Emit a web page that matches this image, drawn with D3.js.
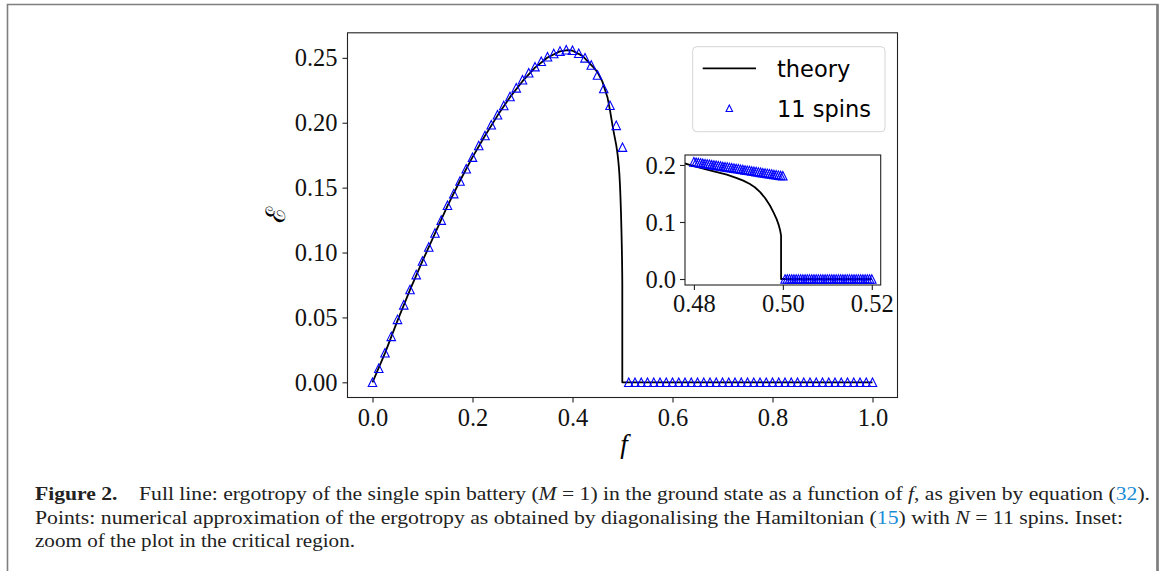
<!DOCTYPE html>
<head>
  <title>Ergotropy of the single spin battery</title>
  <style>
    body { margin: 0; background: #fff; }
    svg { display: block; }
  </style>
</head>
<body>
  <script src="https://cdn.jsdelivr.net/npm/d3@7"></script>
  <script>
    // theory curve
    var theoryF = [0, 0.025, 0.05, 0.075, 0.1, 0.125, 0.15, 0.175, 0.2, 0.225, 0.25, 0.275, 0.3, 0.325, 0.35, 0.375, 0.39, 0.4, 0.42, 0.44, 0.45, 0.46, 0.47, 0.475, 0.48, 0.4836, 0.4874, 0.4895, 0.4911, 0.4925, 0.4937, 0.4949, 0.4960, 0.4971, 0.4979, 0.4986, 0.4991, 0.4994, 0.4996, 0.4996, 0.52, 1.0];
    var theoryE = [0, 0.0225, 0.0475, 0.0712, 0.0935, 0.1148, 0.1360, 0.1553, 0.1735, 0.1900, 0.2055, 0.2197, 0.2320, 0.2425, 0.2503, 0.2550, 0.2560, 0.2555, 0.2515, 0.2435, 0.2390, 0.2315, 0.2195, 0.2095, 0.1980, 0.1905, 0.1830, 0.1775, 0.1725, 0.1670, 0.1610, 0.1525, 0.1420, 0.1290, 0.1170, 0.1050, 0.0940, 0.0850, 0.0760, 0, 0, 0];

    // 11 spins, main plot
    var spinF = [0, 0.0125, 0.025, 0.0375, 0.05, 0.0625, 0.075, 0.0875, 0.1, 0.1125, 0.125, 0.1375, 0.15, 0.1625, 0.175, 0.1875, 0.2, 0.2125, 0.225, 0.2375, 0.25, 0.2625, 0.275, 0.2875, 0.3, 0.3125, 0.325, 0.3375, 0.35, 0.3625, 0.375, 0.3875, 0.4, 0.4125, 0.425, 0.4375, 0.45, 0.4625, 0.475, 0.4875, 0.5,
      0.5125, 0.525, 0.5375, 0.55, 0.5625, 0.575, 0.5875, 0.6, 0.6125, 0.625, 0.6375, 0.65, 0.6625, 0.675, 0.6875, 0.7, 0.7125, 0.725, 0.7375, 0.75, 0.7625, 0.775, 0.7875, 0.8, 0.8125, 0.825, 0.8375, 0.85, 0.8625, 0.875, 0.8875, 0.9, 0.9125, 0.925, 0.9375, 0.95, 0.9625, 0.975, 0.9875, 1.0];
    var spinE = [0, 0.0108, 0.0228, 0.0354, 0.0485, 0.0597, 0.0715, 0.0830, 0.0935, 0.1043, 0.1150, 0.1250, 0.1364, 0.1454, 0.1551, 0.1646, 0.1735, 0.1825, 0.1902, 0.1985, 0.2062, 0.2133, 0.2202, 0.2269, 0.2331, 0.2385, 0.2432, 0.2474, 0.2508, 0.2534, 0.2552, 0.2562, 0.2558, 0.2536, 0.2500, 0.2445, 0.2368, 0.2264, 0.2135, 0.1980, 0.1812,
      0, 0, 0, 0, 0, 0, 0, 0, 0, 0, 0, 0, 0, 0, 0, 0, 0, 0, 0, 0, 0, 0, 0, 0, 0, 0, 0, 0, 0, 0, 0, 0, 0, 0, 0, 0, 0, 0, 0, 0];

    // 11 spins, inset (critical region)
    var insetF = [0.48, 0.4805, 0.481, 0.4815, 0.482, 0.4825, 0.483, 0.4835, 0.484, 0.4845, 0.485, 0.4855, 0.486, 0.4865, 0.487, 0.4875, 0.488, 0.4885, 0.489, 0.4895, 0.49, 0.4905, 0.491, 0.4915, 0.492, 0.4925, 0.493, 0.4935, 0.494, 0.4945, 0.495, 0.4955, 0.496, 0.4965, 0.497, 0.4975, 0.498, 0.4985, 0.499, 0.4995, 0.5,
      0.5005, 0.501, 0.5015, 0.502, 0.5025, 0.503, 0.5035, 0.504, 0.5045, 0.505, 0.5055, 0.506, 0.5065, 0.507, 0.5075, 0.508, 0.5085, 0.509, 0.5095, 0.51, 0.5105, 0.511, 0.5115, 0.512, 0.5125, 0.513, 0.5135, 0.514, 0.5145, 0.515, 0.5155, 0.516, 0.5165, 0.517, 0.5175, 0.518, 0.5185, 0.519, 0.5195, 0.52];
    var insetE = [0.2055, 0.2049, 0.2043, 0.2037, 0.2031, 0.2024, 0.2018, 0.2012, 0.2006, 0.2000, 0.1994, 0.1988, 0.1982, 0.1975, 0.1969, 0.1963, 0.1957, 0.1951, 0.1945, 0.1939, 0.1933, 0.1926, 0.1920, 0.1914, 0.1908, 0.1902, 0.1896, 0.1890, 0.1884, 0.1877, 0.1871, 0.1865, 0.1859, 0.1853, 0.1847, 0.1841, 0.1835, 0.1828, 0.1822, 0.1816, 0.1810,
      0, 0, 0, 0, 0, 0, 0, 0, 0, 0, 0, 0, 0, 0, 0, 0, 0, 0, 0, 0, 0, 0, 0, 0, 0, 0, 0, 0, 0, 0, 0, 0, 0, 0, 0, 0, 0, 0, 0, 0];

    var xTicks = [0.0, 0.2, 0.4, 0.6, 0.8, 1.0];
    var yTicks = [0.00, 0.05, 0.10, 0.15, 0.20, 0.25];
    var insetXTicks = [0.48, 0.50, 0.52];
    var insetYTicks = [0.0, 0.1, 0.2];

    var W = 1163, H = 571;
    var tickFont = "'Liberation Serif', 'DejaVu Serif', serif";

    var svg = d3.select("body").append("svg")
        .attr("width", W)
        .attr("height", H);

    // page frame
    svg.append("path")
        .attr("d", "M7.5," + H + " V4.5 H1157.5 V" + H)
        .attr("fill", "none")
        .attr("stroke", "#7f7f7f")
        .attr("stroke-width", 1.6);
    svg.append("line")
        .attr("x1", 1157.5).attr("x2", 1157.5).attr("y1", 4).attr("y2", H)
        .attr("stroke", "#7f7f7f").attr("stroke-width", 2.6);

    // main axes
    var x = d3.scaleLinear().domain([-0.05, 1.05]).range([347.5, 897.5]);
    var y = d3.scaleLinear().domain([-0.0117, 0.2693]).range([397.5, 32.8]);

    svg.append("clipPath").attr("id", "mainclip").append("rect")
        .attr("x", 347.5).attr("y", 32.8).attr("width", 550).attr("height", 364.7);

    function triPath(s) {
      // matplotlib style '^' : width s, height s, centred
      var h = s / 2;
      return "M0," + (-h) + "L" + h + "," + h + "L" + (-h) + "," + h + "Z";
    }

    var line = d3.line()
        .x(function(d) { return x(d[0]); })
        .y(function(d) { return y(d[1]); });

    var theory = theoryF.map(function(f, i) { return [f, theoryE[i]]; });
    var spins = spinF.map(function(f, i) { return [f, spinE[i]]; });

    var gm = svg.append("g").attr("clip-path", "url(#mainclip)");
    gm.append("path").datum(theory)
        .attr("d", line)
        .attr("fill", "none")
        .attr("stroke", "#000")
        .attr("stroke-width", 1.8)
        .attr("stroke-linejoin", "round");

    gm.selectAll(".m").data(spins).enter().append("path")
        .attr("transform", function(d) { return "translate(" + x(d[0]) + "," + y(d[1]) + ")"; })
        .attr("d", triPath(8.5))
        .attr("fill", "none")
        .attr("stroke", "#0000ff")
        .attr("stroke-width", 1.1);

    svg.append("rect")
        .attr("x", 347.5).attr("y", 32.8).attr("width", 550).attr("height", 364.7)
        .attr("fill", "none").attr("stroke", "#222").attr("stroke-width", 1.1);

    var xa = svg.append("g").attr("transform", "translate(0,397.5)")
        .call(d3.axisBottom(x).tickValues(xTicks).tickSize(5).tickPadding(6).tickFormat(d3.format(".1f")));
    var ya = svg.append("g").attr("transform", "translate(347.5,0)")
        .call(d3.axisLeft(y).tickValues(yTicks).tickSize(5).tickPadding(5).tickFormat(d3.format(".2f")));
    [xa, ya].forEach(function(a) {
      a.select(".domain").remove();
      a.selectAll("line").attr("stroke", "#222").attr("stroke-width", 1.1);
      a.selectAll("text").attr("font-family", tickFont).attr("font-size", 24.5).attr("fill", "#111");
    });
    ya.selectAll("text").attr("dy", "0.33em");

    svg.append("text")
        .attr("x", 624).attr("y", 453)
        .attr("text-anchor", "middle")
        .attr("font-family", tickFont)
        .attr("font-style", "italic")
        .attr("font-size", 27)
        .text("f");

    svg.append("text")
        .attr("transform", "translate(285,215) rotate(-90)")
        .attr("text-anchor", "middle")
        .attr("font-family", "'DejaVu Serif', serif")
        .attr("font-size", 27)
        .text("\u2130");

    // legend
    var lg = svg.append("g");
    lg.append("rect")
        .attr("x", 692.7).attr("y", 46.7).attr("width", 192.3).attr("height", 85)
        .attr("rx", 4).attr("fill", "#fff").attr("fill-opacity", 0.8)
        .attr("stroke", "#d6d6d6").attr("stroke-width", 1);
    lg.append("line")
        .attr("x1", 702.7).attr("x2", 756).attr("y1", 68.3).attr("y2", 68.3)
        .attr("stroke", "#000").attr("stroke-width", 1.8);
    lg.append("path")
        .attr("transform", "translate(729.3,108.3)")
        .attr("d", triPath(6.5))
        .attr("fill", "none").attr("stroke", "#0000ff").attr("stroke-width", 1.1);
    lg.append("text").attr("x", 777).attr("y", 76.5)
        .attr("font-family", "'DejaVu Sans', sans-serif").attr("font-size", 22.5)
        .text("theory");
    lg.append("text").attr("x", 777).attr("y", 116.5)
        .attr("font-family", "'DejaVu Sans', sans-serif").attr("font-size", 22.5)
        .text("11 spins");

    // inset
    var ix = d3.scaleLinear().domain([0.478, 0.522]).range([685, 880.7]);
    var iy = d3.scaleLinear().domain([-0.0105, 0.2175]).range([285, 155]);

    svg.append("rect")
        .attr("x", 685).attr("y", 155).attr("width", 195.7).attr("height", 130)
        .attr("fill", "#fff");
    svg.append("clipPath").attr("id", "insetclip").append("rect")
        .attr("x", 685).attr("y", 155).attr("width", 195.7).attr("height", 130);

    var iline = d3.line()
        .x(function(d) { return ix(d[0]); })
        .y(function(d) { return iy(d[1]); });
    var insetPts = insetF.map(function(f, i) { return [f, insetE[i]]; });

    var gi = svg.append("g").attr("clip-path", "url(#insetclip)");
    gi.append("path").datum(theory.filter(function(d) { return d[0] >= 0.47 && d[0] <= 0.6; }))
        .attr("d", iline)
        .attr("fill", "none").attr("stroke", "#000").attr("stroke-width", 1.8)
        .attr("stroke-linejoin", "round");
    gi.selectAll(".i").data(insetPts).enter().append("path")
        .attr("transform", function(d) { return "translate(" + ix(d[0]) + "," + iy(d[1]) + ")"; })
        .attr("d", triPath(8.5))
        .attr("fill", "none").attr("stroke", "#0000ff").attr("stroke-width", 1.1);

    svg.append("rect")
        .attr("x", 685).attr("y", 155).attr("width", 195.7).attr("height", 130)
        .attr("fill", "none").attr("stroke", "#222").attr("stroke-width", 1.1);

    var ixa = svg.append("g").attr("transform", "translate(0,285)")
        .call(d3.axisBottom(ix).tickValues(insetXTicks).tickSize(5).tickPadding(5).tickFormat(d3.format(".2f")));
    var iya = svg.append("g").attr("transform", "translate(685,0)")
        .call(d3.axisLeft(iy).tickValues(insetYTicks).tickSize(5).tickPadding(4).tickFormat(d3.format(".1f")));
    [ixa, iya].forEach(function(a) {
      a.select(".domain").remove();
      a.selectAll("line").attr("stroke", "#222").attr("stroke-width", 1.1);
      a.selectAll("text").attr("font-family", tickFont).attr("font-size", 24.5).attr("fill", "#111");
    });
    iya.selectAll("text").attr("dy", "0.33em");

    // caption
    var capFont = "'Liberation Serif', 'DejaVu Serif', serif";
    var blue = "#1a8cd8";
    var cap = svg.append("g")
        .attr("font-family", capFont)
        .attr("font-size", 19)
        .attr("fill", "#222");

    var l1 = cap.append("text").attr("x", 35).attr("y", 500);
    l1.append("tspan").attr("font-weight", "bold").text("Figure 2.");
    l1.append("tspan").text("\u2003Full line: ergotropy of the single spin battery (");
    l1.append("tspan").attr("font-style", "italic").text("M");
    l1.append("tspan").text(" = 1) in the ground state as a function of ");
    l1.append("tspan").attr("font-style", "italic").text("f");
    l1.append("tspan").text(", as given by equation (");
    l1.append("tspan").attr("fill", blue).text("32");
    l1.append("tspan").text(").");

    var l2 = cap.append("text").attr("x", 35).attr("y", 524);
    l2.append("tspan").text("Points: numerical approximation of the ergotropy as obtained by diagonalising the Hamiltonian (");
    l2.append("tspan").attr("fill", blue).text("15");
    l2.append("tspan").text(") with ");
    l2.append("tspan").attr("font-style", "italic").text("N");
    l2.append("tspan").text(" = 11 spins. Inset:");

    var l3 = cap.append("text").attr("x", 35).attr("y", 547)
        .text("zoom of the plot in the critical region.");

    // fit caption lines to the measured widths
    l1.attr("textLength", 1115).attr("lengthAdjust", "spacingAndGlyphs");
    l2.attr("textLength", 1088).attr("lengthAdjust", "spacingAndGlyphs");
    l3.attr("textLength", 320).attr("lengthAdjust", "spacingAndGlyphs");
  </script>
</body>
